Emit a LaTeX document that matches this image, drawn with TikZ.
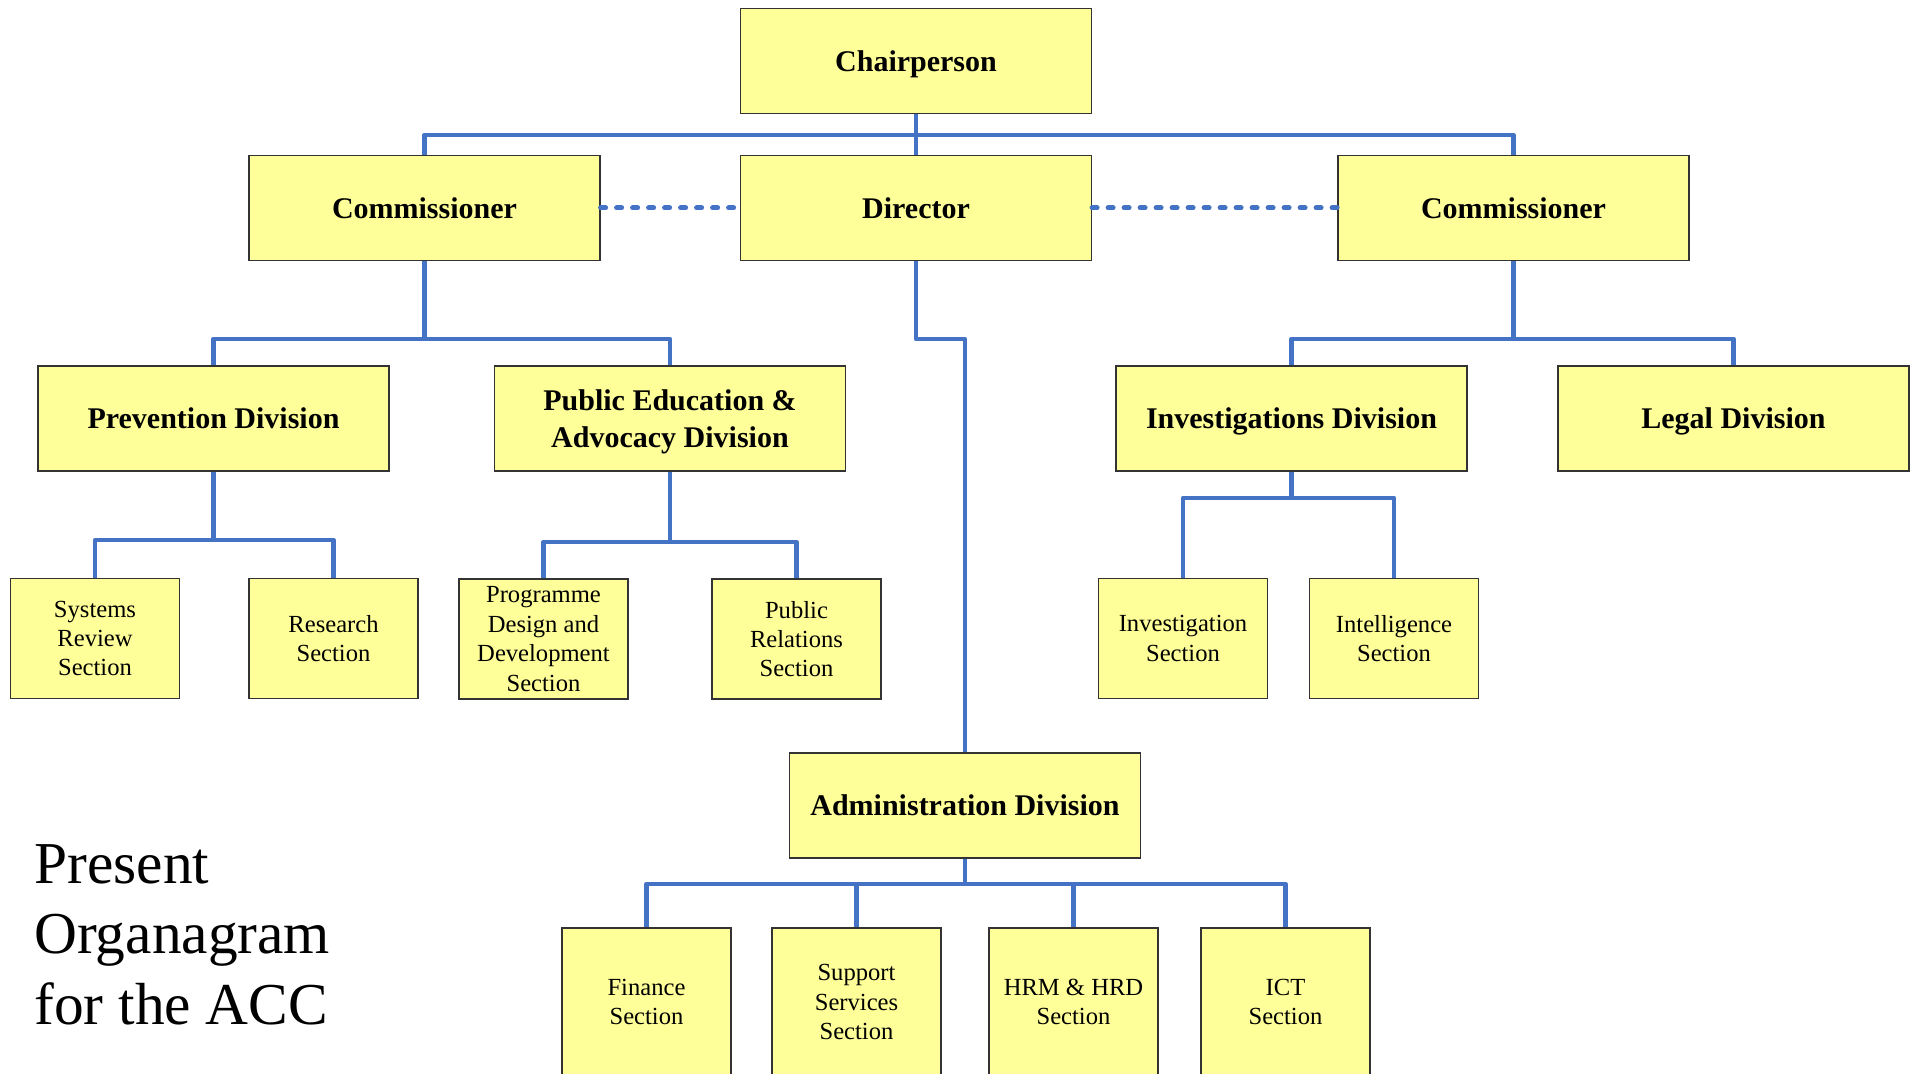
\documentclass[tikz,border=0pt]{standalone}
\usepackage{fontspec}
\setmainfont{Liberation Serif}
\definecolor{boxyellow}{HTML}{FFFF99}
\definecolor{linkblue}{HTML}{4472C4}
\tikzset{unit/.style={draw=black!80, fill=boxyellow, line width=0.6pt, minimum width=175.5pt, minimum height=52.5pt, align=center, inner sep=2pt, text depth=0pt, font=\fontsize{15}{18.4}\selectfont\bfseries}}
\tikzset{section/.style={draw=black!80, fill=boxyellow, line width=0.6pt, minimum width=84.5pt, minimum height=60pt, align=center, inner sep=1pt, font=\fontsize{12.3}{14.7}\selectfont}}
\tikzset{link/.style={linkblue, line width=2.4pt, line join=round}}
\tikzset{dotlink/.style={linkblue, line width=2.5pt, line cap=round, dash pattern=on 2.5pt off 5.5pt}}

\begin{document}
\begin{tikzpicture}[x=0.5pt, y=-0.5pt]

	\clip (0,0) rectangle (1919,1074);
	\useasboundingbox (0,0) rectangle (1919,1074);

	% top levels
	\node[unit] (chair) at (916,61) {Chairperson};
	\node[unit] (dir) at (916,208) {Director};
	\node[unit] (comL) at (424.5,208) {Commissioner};
	\node[unit] (comR) at (1513.5,208) {Commissioner};

	% divisions
	\node[unit] (prev) at (213.5,418.5) {Prevention Division};
	\node[unit] (pub) at (670,418.5) {Public Education \&\\Advocacy Division};
	\node[unit] (inv) at (1291.5,418.5) {Investigations Division};
	\node[unit] (legal) at (1733.5,418.5) {Legal Division};
	\node[unit] (admin) at (965,805.5) {Administration Division};

	% sections
	\node[section] (sys) at (95,638.5) {Systems\\Review\\Section};
	\node[section] (res) at (333.5,638.5) {Research\\Section};
	\node[section] (prog) at (543.5,639) {Programme\\Design and\\Development\\Section};
	\node[section] (prel) at (796.5,639) {Public\\Relations\\Section};
	\node[section] (invs) at (1183,638.5) {Investigation\\Section};
	\node[section] (intel) at (1394,638.5) {Intelligence\\Section};

	\node[section, minimum height=74pt] (fin) at (646.5,1002) {Finance\\Section};
	\node[section, minimum height=74pt] (sup) at (856.5,1002) {Support\\Services\\Section};
	\node[section, minimum height=74pt] (hrm) at (1073.5,1002) {HRM \& HRD\\Section};
	\node[section, minimum height=74pt] (ict) at (1285.5,1002) {ICT\\Section};

	\node[anchor=north west, align=left, inner sep=0pt, font=\fontsize{29.7}{35.2}\selectfont] (title) at (34,844) {Present\\Organagram\\for the ACC};

	% connectors
	\coordinate (barC) at (916,135);
	\draw[link] (chair.south) -- (dir.north);
	\draw[link] (comL.north) |- (barC) -| (comR.north);
	\draw[dotlink] (comL.east) -- (dir.west);
	\draw[dotlink] (dir.east) -- (comR.west);

	\coordinate (barL) at (424.5,339);
	\draw[link] (comL.south) -- (barL);
	\draw[link] (prev.north) |- (barL) -| (pub.north);

	\coordinate (barR) at (1513.5,339);
	\draw[link] (comR.south) -- (barR);
	\draw[link] (inv.north) |- (barR) -| (legal.north);

	\coordinate (barD) at (916,339);
	\draw[link] (dir.south) -- (barD) -| (admin.north);

	\coordinate (barP) at (213.5,540);
	\draw[link] (prev.south) -- (barP);
	\draw[link] (sys.north) |- (barP) -| (res.north);

	\coordinate (barE) at (670,542);
	\draw[link] (pub.south) -- (barE);
	\draw[link] (prog.north) |- (barE) -| (prel.north);

	\coordinate (barI) at (1291.5,498);
	\draw[link] (inv.south) -- (barI);
	\draw[link] (invs.north) |- (barI) -| (intel.north);

	\coordinate (barA) at (965,884);
	\draw[link] (admin.south) -- (barA);
	\draw[link] (fin.north) |- (barA) -| (ict.north);
	\draw[link] (sup.north) -- (sup.north |- barA);
	\draw[link] (hrm.north) -- (hrm.north |- barA);

\end{tikzpicture}
\end{document}
